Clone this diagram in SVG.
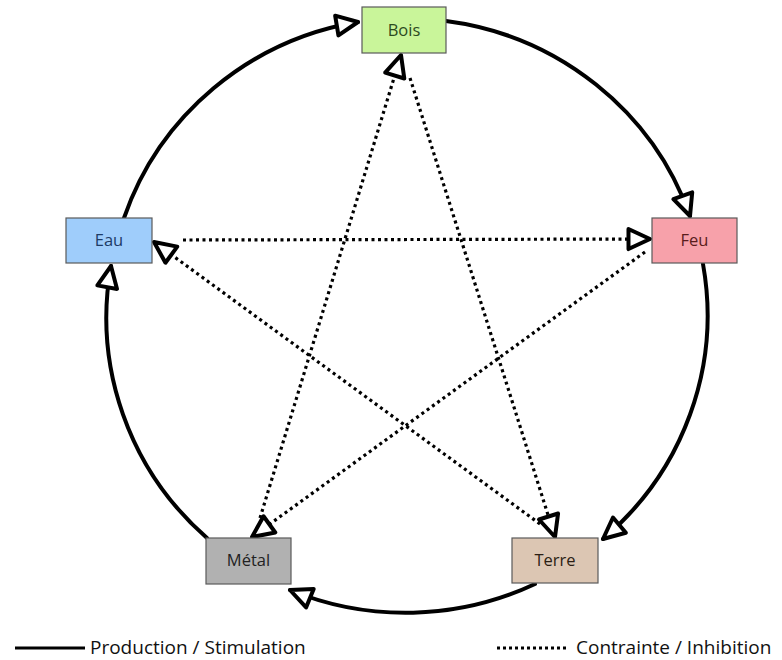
<svg xmlns="http://www.w3.org/2000/svg" width="782" height="660" viewBox="0 0 782 660">
  <defs>
    <!-- open triangular arrowhead shared by every connector -->
    <marker id="openArrow" markerUnits="userSpaceOnUse" viewBox="0 0 28 26" markerWidth="28" markerHeight="26" refX="25" refY="13" orient="auto">
      <path d="M3.5,3 L25,13 L3.5,23 Z" fill="#fff" stroke="#000" stroke-width="4" stroke-linejoin="round"/>
    </marker>
    <style>
      .box { stroke: #5a5a5a; stroke-width: 1.2; }
      .label { font-family: "Open Sans", "Liberation Sans", sans-serif; font-size: 16.5px; text-anchor: middle; }
      .solid { fill: none; stroke: #000; stroke-width: 4; stroke-linecap: round; }
      .dotted { fill: none; stroke: #000; stroke-width: 3.2; stroke-dasharray: 3 3.5; }
      .legend { font-family: "Open Sans", "Liberation Sans", sans-serif; font-size: 19px; fill: #111; }
    </style>
  </defs>

  <rect width="782" height="660" fill="#fff"/>

  <!-- connectors -->
  <g id="connectors">
    <!-- production cycle (solid arcs) -->
    <path class="solid" d="M124,218 A300,295 0 0 1 358,22" marker-end="url(#openArrow)"/>
    <path class="solid" d="M446,21 A300,295 0 0 1 690,216" marker-end="url(#openArrow)"/>
    <path class="solid" d="M703,264 A300,295 0 0 1 603,539" marker-end="url(#openArrow)"/>
    <path class="solid" d="M535,584 A300,295 0 0 1 290,590" marker-end="url(#openArrow)"/>
    <path class="solid" d="M207,538 A300,295 0 0 1 111,266" marker-end="url(#openArrow)"/>

    <!-- inhibition star (dotted lines) -->
    <path class="dotted" d="M183,240 L650,239" marker-end="url(#openArrow)"/>
    <path class="dotted" d="M540,524 L154,242" marker-end="url(#openArrow)"/>
    <path class="dotted" d="M645,252 L252,537" marker-end="url(#openArrow)"/>
    <path class="dotted" d="M260,518 L401,55" marker-end="url(#openArrow)"/>
    <path class="dotted" d="M410,78 L555,537" marker-end="url(#openArrow)"/>
  </g>

  <!-- elements -->
  <g id="bois">
    <rect class="box" x="362" y="7" width="84" height="46" fill="#c9f59a"/>
    <text class="label" x="404" y="36" fill="#2c4a1e">Bois</text>
  </g>
  <g id="feu">
    <rect class="box" x="652" y="218" width="85" height="45" fill="#f7a1aa"/>
    <text class="label" x="694.5" y="246" fill="#5a1c1c">Feu</text>
  </g>
  <g id="terre">
    <rect class="box" x="512" y="538" width="86" height="45" fill="#dcc6b3"/>
    <text class="label" x="555" y="566" fill="#2b1e14">Terre</text>
  </g>
  <g id="metal">
    <rect class="box" x="206" y="538" width="85" height="46" fill="#b1b1b1"/>
    <text class="label" x="248.5" y="566" fill="#222">Métal</text>
  </g>
  <g id="eau">
    <rect class="box" x="66" y="218" width="86" height="45" fill="#9fcdfb"/>
    <text class="label" x="109" y="246" fill="#1d3b66">Eau</text>
  </g>

  <!-- legend -->
  <g id="legend">
    <line x1="15" y1="648" x2="85" y2="648" stroke="#000" stroke-width="3"/>
    <text class="legend" x="90" y="654">Production / Stimulation</text>
    <line x1="497" y1="648" x2="569" y2="648" stroke="#000" stroke-width="3" stroke-dasharray="3 3"/>
    <text class="legend" x="576" y="654">Contrainte / Inhibition</text>
  </g>
</svg>
